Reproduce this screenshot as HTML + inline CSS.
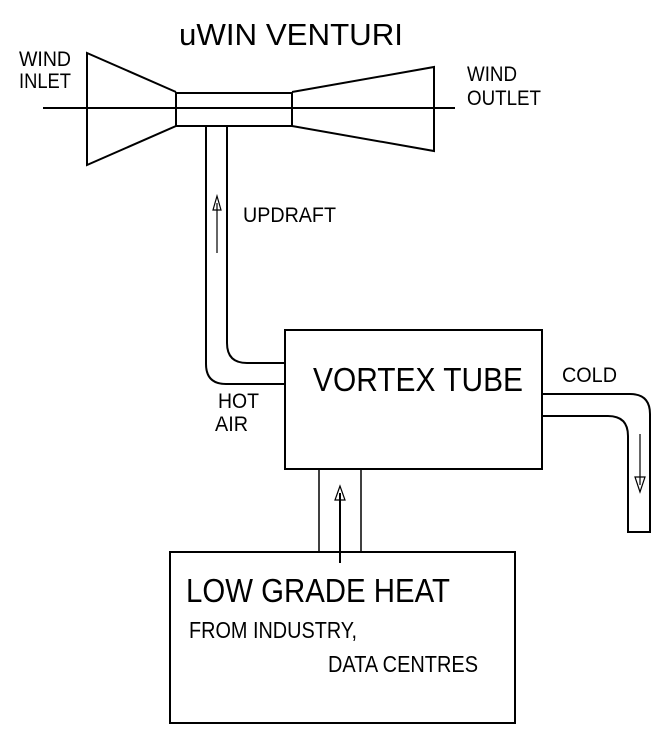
<!DOCTYPE html>
<html><head><style>html,body{margin:0;padding:0;background:#fff;width:671px;height:746px;overflow:hidden}</style></head>
<body>
<svg width="671" height="746" xmlns="http://www.w3.org/2000/svg" style="display:block">
<g fill="none" stroke="#000" stroke-width="2">
<polyline points="176,92 87,53 87,165 176,126"/>
<rect x="176" y="93" width="116" height="33"/>
<polyline points="292,92 434,67 434,151 292,126"/>
<line x1="43" y1="108" x2="455" y2="108"/>
<path d="M206,126 V364 Q206,384 226,384 H285"/>
<path d="M227,126 V343 Q227,363 247,363 H285"/>
<rect x="285" y="330" width="257" height="139"/>
<path d="M542,394 H630 Q650,394 650,414 V532 H628 V436 Q628,416 608,416 H542"/>
<line x1="319" y1="469" x2="319" y2="552" stroke-width="1.5"/>
<line x1="361" y1="469" x2="361" y2="552" stroke-width="1.5"/>
<rect x="170" y="552" width="345" height="171"/>
</g>
<g fill="none" stroke="#000" stroke-width="1.2">
<line x1="217" y1="203" x2="217" y2="253"/>
<polygon points="217,196 213,210 221,210"/>
<line x1="340" y1="493" x2="340" y2="563" stroke-width="2"/>
<polygon points="340,486 335,500 345,500"/>
<line x1="640" y1="434" x2="640" y2="485"/>
<polygon points="640,492 635,477 645,477"/>
</g>
<g font-family="'Liberation Sans', Arial, sans-serif" fill="#000">
<text x="179" y="45" font-size="31" textLength="224" lengthAdjust="spacingAndGlyphs">uWIN  VENTURI</text>
<text x="19" y="66" font-size="21" textLength="52" lengthAdjust="spacingAndGlyphs">WIND</text>
<text x="19" y="88" font-size="21" textLength="52" lengthAdjust="spacingAndGlyphs">INLET</text>
<text x="467" y="81" font-size="21" textLength="50" lengthAdjust="spacingAndGlyphs">WIND</text>
<text x="467" y="105" font-size="21" textLength="74" lengthAdjust="spacingAndGlyphs">OUTLET</text>
<text x="243" y="222" font-size="21" textLength="93" lengthAdjust="spacingAndGlyphs">UPDRAFT</text>
<text x="313" y="391" font-size="33" textLength="210" lengthAdjust="spacingAndGlyphs">VORTEX TUBE</text>
<text x="562" y="382" font-size="21" textLength="55" lengthAdjust="spacingAndGlyphs">COLD</text>
<text x="218" y="408" font-size="21" textLength="41" lengthAdjust="spacingAndGlyphs">HOT</text>
<text x="215" y="431" font-size="21" textLength="33" lengthAdjust="spacingAndGlyphs">AIR</text>
<text x="186" y="602" font-size="33" textLength="264" lengthAdjust="spacingAndGlyphs">LOW GRADE HEAT</text>
<text x="189" y="638" font-size="23" textLength="168" lengthAdjust="spacingAndGlyphs">FROM INDUSTRY,</text>
<text x="328" y="672" font-size="23" textLength="150" lengthAdjust="spacingAndGlyphs">DATA CENTRES</text>
</g>
</svg>
</body></html>
